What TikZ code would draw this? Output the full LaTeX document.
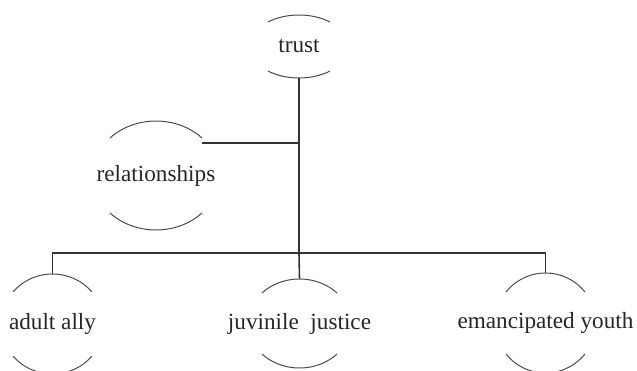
\documentclass[tikz,border=0pt]{standalone}
\usepackage{fontspec}
\setmainfont{Liberation Serif}
\usepackage{tikz}
\usetikzlibrary{positioning,calc}
\definecolor{inkgray}{HTML}{333333}
\tikzset{
  topic/.style={inner sep=0pt, text=black!85, font=\fontsize{11.6}{14}\selectfont},
  arcline/.style={draw=black!70, line width=0.5pt},
  link/.style={draw=inkgray, line width=0.8pt}
}
% two brackets round a topic: node, x radius, y radius, end angle
\newcommand{\bubble}[4]{%
  \draw[arcline] ([shift={(180-#4:#2 and #3)}]#1.center) arc[start angle=180-#4, end angle=#4, x radius=#2, y radius=#3];
  \draw[arcline] ([shift={(180+#4:#2 and #3)}]#1.center) arc[start angle=180+#4, end angle=360-#4, x radius=#2, y radius=#3];
}

\begin{document}
\begin{tikzpicture}[x=0.5pt,y=0.5pt]
\useasboundingbox (0,0) rectangle (637,370);
\node[topic, minimum height=31.5pt] (trust) at (299,323.5) {trust};
\node[topic, minimum height=54.5pt] (rel) at (156,194.5) {relationships};
\node[topic, minimum height=50pt] (adult) at (52.5,46) {adult ally};
\node[topic, minimum height=44.5pt] (juv) at (299.5,46.5) {juvinile\ \ justice};
\node[topic, minimum height=50pt] (eman) at (545.5,47) {emancipated youth};
\coordinate (hub) at (299,117);
\bubble{trust}{49.4}{31.5}{51}
\bubble{rel}{63.4}{54.5}{43.5}
\bubble{adult}{51.4}{50}{40}
\bubble{juv}{51.5}{44.5}{43.3}
\bubble{eman}{50.3}{50}{38.3}
\draw[link] (trust.south) -- (hub);
\draw[link] ([shift={(46,32.5)}]rel.center) coordinate (relend) -- (relend -| hub);
\draw[link] (adult.north) |- (hub);
\draw[link] (eman.north) |- (hub);
\draw[link] (hub) -- (juv.north);
\end{tikzpicture}
\end{document}
